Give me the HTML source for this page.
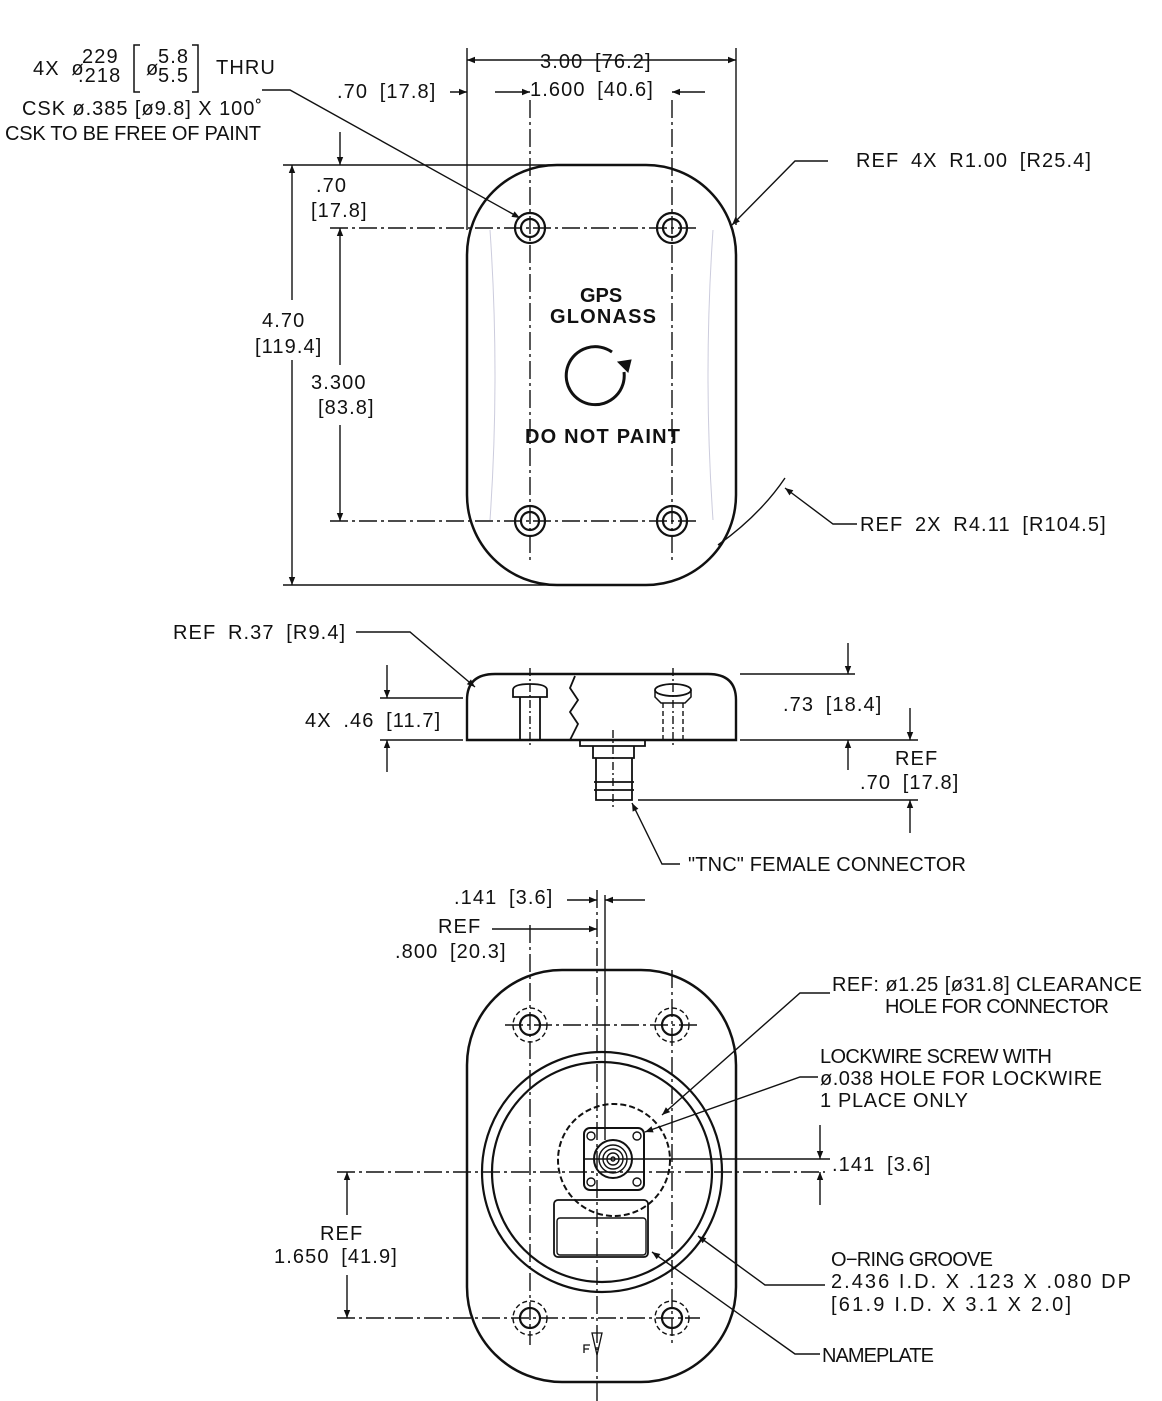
<!DOCTYPE html>
<html><head><meta charset="utf-8"><style>
html,body{margin:0;padding:0;background:#fff;width:1162px;height:1401px;overflow:hidden}
svg text{font-family:"Liberation Sans",sans-serif;fill:#111;font-size:20px;word-spacing:5px;letter-spacing:1.1px}
svg text.n{letter-spacing:0;word-spacing:0}
</style></head><body>
<svg width="1162" height="1401" viewBox="0 0 1162 1401" xmlns="http://www.w3.org/2000/svg">
<defs>
<marker id="a" viewBox="0 0 10 10" refX="10" refY="5" markerWidth="12" markerHeight="8" orient="auto-start-reverse" markerUnits="userSpaceOnUse"><path d="M0,1 L10,5 L0,9 z" fill="#111"/></marker>
</defs>
<g fill="none" stroke="#111" stroke-width="1.4">
<rect x="467" y="165" width="269" height="420" rx="90" stroke-width="2.5"/>
<path d="M490 230 Q500 375 490 520 M713 230 Q703 375 713 520" stroke="#ccd" stroke-width="1"/>
<g stroke-dasharray="18,4,3,4">
<line x1="530" y1="100" x2="530" y2="560"/><line x1="672" y1="100" x2="672" y2="560"/>
<line x1="330" y1="228" x2="700" y2="228"/><line x1="330" y1="521" x2="700" y2="521"/>
</g>
<g stroke-width="2.2">
<circle cx="530" cy="228" r="15"/><circle cx="530" cy="228" r="9"/>
<circle cx="672" cy="228" r="15"/><circle cx="672" cy="228" r="9"/>
<circle cx="530" cy="521" r="15"/><circle cx="530" cy="521" r="9"/>
<circle cx="672" cy="521" r="15"/><circle cx="672" cy="521" r="9"/>
</g>
<path d="M624 372 A29 29 0 1 1 612 352" stroke-width="3"/>
<path d="M618 362 L628 372 L631 360 Z" fill="#111" stroke-width="1"/>
<line x1="467" y1="48" x2="467" y2="230"/><line x1="736" y1="48" x2="736" y2="225"/>
<line x1="467" y1="60" x2="736" y2="60" marker-start="url(#a)" marker-end="url(#a)"/>
<line x1="450" y1="92" x2="467" y2="92" marker-end="url(#a)"/>
<line x1="495" y1="92" x2="530" y2="92" marker-end="url(#a)"/>
<line x1="672" y1="92" x2="705" y2="92" marker-start="url(#a)"/>
<line x1="283" y1="165" x2="590" y2="165"/><line x1="283" y1="585" x2="590" y2="585"/>
<line x1="292" y1="165" x2="292" y2="300" marker-start="url(#a)"/>
<line x1="292" y1="360" x2="292" y2="585" marker-end="url(#a)"/>
<line x1="340" y1="132" x2="340" y2="165" marker-end="url(#a)"/>
<line x1="340" y1="228" x2="340" y2="365" marker-start="url(#a)"/>
<line x1="340" y1="425" x2="340" y2="521" marker-end="url(#a)"/>
<path d="M262 90 L290 90 L520 218" marker-end="url(#a)"/>
<path d="M828 161 L795 161 L732 225" marker-end="url(#a)"/>
<path d="M857 524 L833 524 L785 488" marker-end="url(#a)"/>
<path d="M718 545 Q760 515 785 478"/>
<path d="M467 740 L467 700 Q467 674 495 674 L708 674 Q736 674 736 700 L736 740 Z" stroke-width="2.4"/>
<path d="M575 676 L570 688 L578 700 L570 712 L578 724 L570 740" stroke-width="1.8"/>
<path d="M513 690 Q513 684 530 684 Q547 684 547 690 L547 697 L513 697 Z M520 697 L520 740 M540 697 L540 740" stroke-width="1.8"/>
<ellipse cx="673" cy="690" rx="18" ry="6" stroke-width="1.8"/><path d="M655 690 L655 697 L661 703 L685 703 L691 697 L691 690" stroke-width="1.5"/>
<path d="M663 703 L663 740 M683 703 L683 740" stroke-dasharray="5,3"/>
<path d="M580 740 L580 746 L645 746 L645 740 M593 746 L593 758 L634 758 L634 746 M596 758 L596 800 L632 800 L632 758 M594 782 L634 782 M594 790 L634 790" stroke-width="1.8"/>
<line x1="613" y1="730" x2="613" y2="810" stroke-dasharray="8,3,2,3"/>
<line x1="530" y1="668" x2="530" y2="748" stroke-dasharray="8,3,2,3"/><line x1="673" y1="668" x2="673" y2="748" stroke-dasharray="8,3,2,3"/>
<line x1="380" y1="698" x2="463" y2="698"/><line x1="380" y1="740" x2="463" y2="740"/>
<line x1="740" y1="674" x2="855" y2="674"/><line x1="740" y1="740" x2="918" y2="740"/>
<line x1="638" y1="800" x2="918" y2="800"/>
<line x1="387" y1="665" x2="387" y2="698" marker-end="url(#a)"/>
<line x1="387" y1="740" x2="387" y2="772" marker-start="url(#a)"/>
<line x1="848" y1="643" x2="848" y2="674" marker-end="url(#a)"/>
<line x1="910" y1="708" x2="910" y2="740" marker-end="url(#a)"/>
<line x1="848" y1="740" x2="848" y2="770" marker-start="url(#a)"/>
<line x1="910" y1="800" x2="910" y2="833" marker-start="url(#a)"/>
<path d="M356 632 L410 632 L475 687" marker-end="url(#a)"/>
<path d="M680 864 L662 864 L632 803" marker-end="url(#a)"/>
<rect x="467" y="970" width="269" height="412" rx="95" stroke-width="2.5"/>
<circle cx="602" cy="1172" r="120" stroke-width="2.2"/><circle cx="602" cy="1172" r="110" stroke-width="2.2"/>
<circle cx="614" cy="1160" r="56" stroke-width="2" stroke-dasharray="6,3"/>
<rect x="584" y="1128" width="60" height="62" rx="6" stroke-width="2"/>
<circle cx="591" cy="1136" r="4"/><circle cx="637" cy="1136" r="4"/><circle cx="591" cy="1182" r="4"/><circle cx="637" cy="1182" r="4"/>
<circle cx="613" cy="1159" r="19" stroke-width="2"/><circle cx="613" cy="1159" r="14"/><circle cx="613" cy="1159" r="10"/><circle cx="613" cy="1159" r="6"/><circle cx="613" cy="1159" r="2"/>
<rect x="554" y="1200" width="94" height="57" rx="4" stroke-width="1.8"/><rect x="557" y="1218" width="89" height="37" rx="3"/>
<g stroke-width="2.2">
<circle cx="530" cy="1025" r="10"/><circle cx="672" cy="1025" r="10"/><circle cx="530" cy="1318" r="10"/><circle cx="672" cy="1318" r="10"/>
</g>
<g stroke-dasharray="5,3">
<circle cx="530" cy="1025" r="17"/><circle cx="672" cy="1025" r="17"/><circle cx="530" cy="1318" r="17"/><circle cx="672" cy="1318" r="17"/>
</g>
<g stroke-dasharray="18,4,3,4">
<line x1="530" y1="925" x2="530" y2="1345"/><line x1="672" y1="970" x2="672" y2="1345"/>
<line x1="597" y1="890" x2="597" y2="1401"/>
<line x1="505" y1="1025" x2="700" y2="1025"/><line x1="337" y1="1318" x2="700" y2="1318"/>
<line x1="337" y1="1172" x2="825" y2="1172"/>
</g>
<line x1="605" y1="895" x2="605" y2="1140"/>
<line x1="585" y1="1159" x2="830" y2="1159"/>
<path d="M592 1333 L597 1355 L602 1333 Z M590 1345 L584 1345 L584 1353 M584 1349 L589 1349" stroke-width="1.3"/>
<line x1="567" y1="900" x2="597" y2="900" marker-end="url(#a)"/>
<line x1="605" y1="900" x2="645" y2="900" marker-start="url(#a)"/>
<line x1="492" y1="929" x2="597" y2="929" marker-end="url(#a)"/>
<line x1="820" y1="1125" x2="820" y2="1159" marker-end="url(#a)"/>
<line x1="820" y1="1172" x2="820" y2="1205" marker-start="url(#a)"/>
<line x1="347" y1="1172" x2="347" y2="1215" marker-start="url(#a)"/>
<line x1="347" y1="1275" x2="347" y2="1318" marker-end="url(#a)"/>
<path d="M830 993 L800 993 L662 1115" marker-end="url(#a)"/>
<path d="M818 1077 L800 1077 L645 1132" marker-end="url(#a)"/>
<path d="M825 1285 L765 1285 L698 1236" marker-end="url(#a)"/>
<path d="M820 1354 L795 1354 L652 1252" marker-end="url(#a)"/>
</g>
<text x="33" y="75">4X ø</text>
<text x="82" y="63" font-size="17">229</text><text x="78" y="82" font-size="17">.218</text>
<path d="M140 45 L134 45 L134 92 L140 92 M192 45 L198 45 L198 92 L192 92" fill="none" stroke="#111" stroke-width="1.5"/>
<text x="146" y="75">ø</text><text x="158" y="63" font-size="17">5.8</text><text x="158" y="82" font-size="17">5.5</text>
<text x="216" y="74">THRU</text>
<text class="n" x="22" y="115" textLength="240">CSK ø.385 [ø9.8] X 100˚</text>
<text class="n" x="5" y="140" textLength="256">CSK TO BE FREE OF PAINT</text>
<text x="540" y="68">3.00 [76.2]</text>
<text x="337" y="98">.70 [17.8]</text>
<text x="530" y="96">1.600 [40.6]</text>
<text x="856" y="167">REF 4X R1.00 [R25.4]</text>
<text x="316" y="192">.70</text><text x="311" y="217">[17.8]</text>
<text x="262" y="327">4.70</text><text x="255" y="353">[119.4]</text>
<text x="311" y="389">3.300</text><text x="318" y="414">[83.8]</text>
<text class="n" x="580" y="302" font-size="21" font-weight="bold" style="font-weight:bold">GPS</text>
<text class="n" x="550" y="323" font-size="21" style="font-weight:bold" textLength="106">GLONASS</text>
<text class="n" x="525" y="443" font-size="21" style="font-weight:bold" textLength="155">DO NOT PAINT</text>
<text x="860" y="531">REF 2X R4.11 [R104.5]</text>
<text x="173" y="639">REF R.37 [R9.4]</text>
<text x="305" y="727">4X .46 [11.7]</text>
<text x="783" y="711">.73 [18.4]</text>
<text x="895" y="765">REF</text>
<text x="860" y="789">.70 [17.8]</text>
<text class="n" x="688" y="871" textLength="278">"TNC" FEMALE CONNECTOR</text>
<text x="454" y="904">.141 [3.6]</text>
<text x="438" y="933">REF</text>
<text x="395" y="958">.800 [20.3]</text>
<text class="n" x="832" y="991" textLength="310">REF: ø1.25 [ø31.8] CLEARANCE</text>
<text class="n" x="885" y="1013" textLength="224">HOLE FOR CONNECTOR</text>
<text class="n" x="820" y="1063" textLength="232">LOCKWIRE SCREW WITH</text>
<text class="n" x="820" y="1085" textLength="282">ø.038 HOLE FOR LOCKWIRE</text>
<text class="n" x="820" y="1107" textLength="148">1 PLACE ONLY</text>
<text x="832" y="1171">.141 [3.6]</text>
<text x="320" y="1240">REF</text>
<text x="274" y="1263">1.650 [41.9]</text>
<text class="n" x="831" y="1266" textLength="162">O−RING GROOVE</text>
<text class="n" x="831" y="1288" textLength="300">2.436 I.D. X .123 X .080 DP</text>
<text class="n" x="831" y="1311" textLength="240">[61.9 I.D. X 3.1 X 2.0]</text>
<text class="n" x="822" y="1362" textLength="112">NAMEPLATE</text>
</svg>
</body></html>
